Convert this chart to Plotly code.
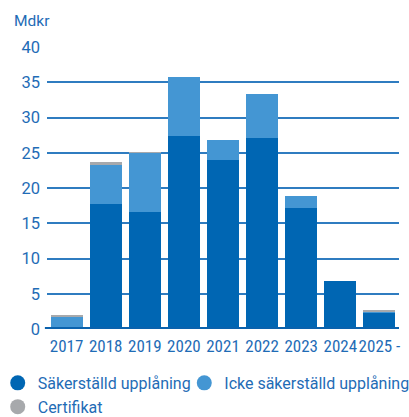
import plotly.graph_objects as go

years = ["2017", "2018", "2019", "2020", "2021", "2022", "2023", "2024", "2025 -"]
secured = [0.0, 17.8, 16.6, 27.4, 24.0, 27.1, 17.2, 6.85, 2.3]
unsecured = [1.75, 5.6, 8.4, 8.35, 2.8, 6.3, 1.6, 0.0, 0.15]
certificates = [0.3, 0.25, 0.05, 0.0, 0.0, 0.0, 0.0, 0.0, 0.15]
y_ticks = [0, 5, 10, 15, 20, 25, 30, 35, 40]

names = ["Säkerställd upplåning", "Icke säkerställd upplåning", "Certifikat"]
colors = ["#0066b3", "#4496d3", "#a7a9ac"]
legend_ids = ["legend", "legend2", "legend"]
text_color = "#1f6cb6"
font_family = "Roboto, sans-serif"
narrow_family = "Liberation Sans Narrow, Arial Narrow, Roboto Condensed, Roboto, sans-serif"

fig = go.Figure()
for vals, name, col in zip([secured, unsecured, certificates], names, colors):
    fig.add_trace(go.Bar(x=years, y=vals, name=name, marker=dict(color=col, line=dict(width=0)),
                         showlegend=False))
for name, col, lg in zip(names, colors, legend_ids):
    fig.add_trace(go.Scatter(x=[None], y=[None], mode="markers", name=name, legend=lg,
                             marker=dict(symbol="circle", size=15, color=col)))

legend_common = dict(orientation="v", yanchor="top", traceorder="normal",
                     font=dict(size=16, color=text_color), itemwidth=30,
                     tracegroupgap=0, bgcolor="rgba(0,0,0,0)")

fig.update_layout(
    width=409, height=417,
    margin=dict(l=47, r=10, t=47, b=87.5, autoexpand=False),
    barmode="stack", bargap=0.18,
    plot_bgcolor="white", paper_bgcolor="white",
    font=dict(family=font_family, color=text_color, size=16),
    xaxis=dict(showgrid=False, showline=False, zeroline=False, ticks="", tickangle=0,
               tickfont=dict(size=17, family=narrow_family), ticklabelstandoff=5,
               automargin=False),
    yaxis=dict(range=[0, 40], tickvals=y_ticks, showgrid=True, gridcolor="#2f7cc0",
               gridwidth=1.5, zeroline=False, showline=False, ticks="",
               tickfont=dict(size=16.5), ticklabelstandoff=6, automargin=False),
    legend=dict(x=-0.14, xanchor="left", y=-0.131, **legend_common),
    legend2=dict(x=0.39, xanchor="left", y=-0.131, **legend_common),
    annotations=[dict(text="Mdkr", xref="paper", yref="paper", x=-0.1, y=1.092,
                      xanchor="left", yanchor="middle", showarrow=False,
                      font=dict(size=15.5, color=text_color))],
    shapes=[dict(type="line", xref="paper", yref="y", x0=-0.006, x1=1.0, y0=0, y1=0,
                 line=dict(color="#0a62ad", width=4), layer="above")],
)

fig.write_html("out.html", config={"displayModeBar": False},
               post_script="document.body.style.margin='0';document.body.style.overflow='hidden';")
